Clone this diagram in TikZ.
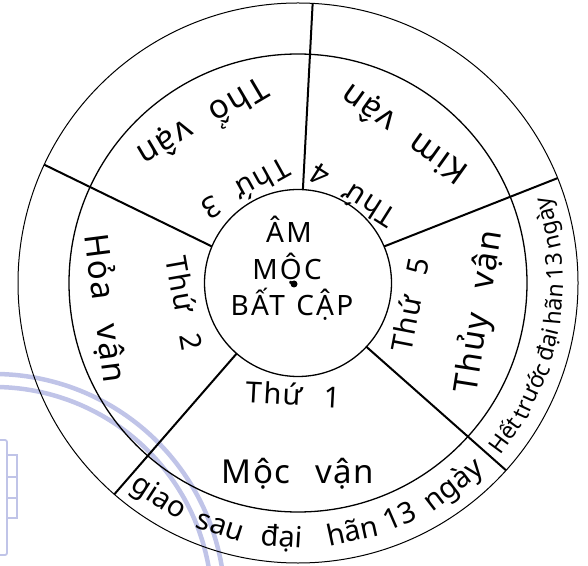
\documentclass[tikz,border=0pt]{standalone}
\usepackage{fontspec}
\setmainfont{Noto Sans}
\newfontfamily\hand{Noto Sans}[LetterSpace=5,WordSpace=2.4]
\newfontfamily\ctrfont{Noto Sans}[LetterSpace=8,WordSpace=1.2]
\newfontfamily\bandfont{Noto Sans}
\definecolor{wm}{RGB}{192,196,232}
\begin{document}
\begin{tikzpicture}[x=1pt,y=1pt,
  ring/.style={circle, draw, inner sep=0pt, outer sep=0pt},
  divider/.style={line width=2pt},
  vanlab/.style={font=\hand\fontsize{33}{36}\selectfont, inner sep=0pt},
  thulab/.style={font=\hand\fontsize{29}{32}\selectfont, inner sep=0pt},
  midlab/.style={font=\ctrfont\fontsize{28}{30}\selectfont, inner sep=0pt, anchor=base},
  botword/.style={font=\bandfont\fontsize{29}{31}\selectfont, inner sep=0pt, anchor=base},
  rightword/.style={font=\bandfont\fontsize{23}{25}\selectfont, inner sep=0pt, anchor=base},
  wmline/.style={draw=wm, line width=4.5pt},
  wmbox/.style={draw=wm, line width=1.8pt}]
\useasboundingbox (0,0) rectangle (588,565);
% faint watermark of the scan
\begin{scope}
  \clip (0,0) rectangle (588,565);
  \coordinate (W) at (-6,-40);
  \draw[wmline] ([shift={(W)}]100:231) arc[start angle=100, end angle=0, radius=231pt];
  \draw[wmline] ([shift={(W)}]100:218) arc[start angle=100, end angle=0, radius=218pt];
  \draw[wmbox, rounded corners=2pt] (-5,10) rectangle (7,125);
  \draw[wmbox] (7,110) rectangle (17,88) (7,88) rectangle (17,67) (7,67) rectangle (17,47);
\end{scope}
% rings
\coordinate (C) at (298,282);
\node[ring, line width=1pt, minimum size=560pt] (outer) at (C) {};
\node[ring, line width=1.3pt, minimum size=458pt] (mid) at (C) {};
\node[ring, line width=1.3pt, minimum size=187pt] (inner) at (C) {};
% dividers
\draw[divider] (inner.87) -- (outer.87);
\draw[divider] (inner.157) -- (outer.155);
\draw[divider] (inner.229) -- (outer.229);
\draw[divider] (inner.317) -- (outer.318);
\draw[divider] (inner.23) -- (outer.22);
% centre
\node[midlab] (am) at (289,322) {ÂM};
\node[midlab] (mocc) at (287,285) {MỘC};
\node[midlab] (batcap) at (292,249) {BẤT CẬP};
\coordinate (pin) at (294,281);
\fill (pin) circle[radius=3.5pt];
% sector labels
\node[thulab, rotate=-3] (thu1) at ([shift={(C)}]267.7:111.6) {Thứ 1};
\node[vanlab] (mocvan) at ([shift={(C)}]270:191) {Mộc vận};
\node[thulab, rotate=-80] (thu2) at ([shift={(C)}]190:115) {Thứ 2};
\node[vanlab, rotate=-82.6] (hoavan) at ([shift={(C)}]187.4:195) {Hỏa vận};
\node[thulab, rotate=209] (thu3) at ([shift={(C)}]119:107) {Thứ 3};
\node[vanlab, rotate=210.5] (thovan) at ([shift={(C)}]120.5:187) {Thổ vận};
\node[thulab, rotate=147.7] (thu4) at ([shift={(C)}]57.7:103) {Thứ 4};
\node[vanlab, rotate=144.5] (kimvan) at ([shift={(C)}]54.5:184) {Kim vận};
\node[thulab, rotate=79] (thu5) at ([shift={(C)}]-11:114) {Thứ 5};
\node[vanlab, rotate=81] (thuyvan) at ([shift={(C)}]-9:184) {Thủy vận};
% bottom band: giao sau đại hãn 13 ngày (baseline on r = 264)
\node[botword, rotate=-33] (b1) at ([shift={(C)}]237:264) {giao};
\node[botword, rotate=-17.7] (b2) at ([shift={(C)}]252.3:264) {sau};
\node[botword, rotate=-3.6]  (b3) at ([shift={(C)}]266.4:264) {đại};
\node[botword, rotate=12.4]  (b4) at ([shift={(C)}]282.4:264) {hãn};
\node[botword, rotate=23.5]  (b5) at ([shift={(C)}]293.5:264) {13};
\node[botword, rotate=37.6]  (b6) at ([shift={(C)}]307.6:264) {ngày};
% right band: Hết trước đại hãn 13 ngày (baseline on r = 265)
\node[rightword, rotate=53.7] (r1) at ([shift={(C)}]-36.3:265) {Hết};
\node[rightword, rotate=65.1] (r2) at ([shift={(C)}]-24.9:265) {trước};
\node[rightword, rotate=76.1] (r3) at ([shift={(C)}]-13.9:265) {đại};
\node[rightword, rotate=85.3] (r4) at ([shift={(C)}]-4.7:265) {hãn};
\node[rightword, rotate=93.7] (r5) at ([shift={(C)}]3.7:265) {13};
\node[rightword, rotate=103.4] (r6) at ([shift={(C)}]13.4:265) {ngày};
\end{tikzpicture}
\end{document}
